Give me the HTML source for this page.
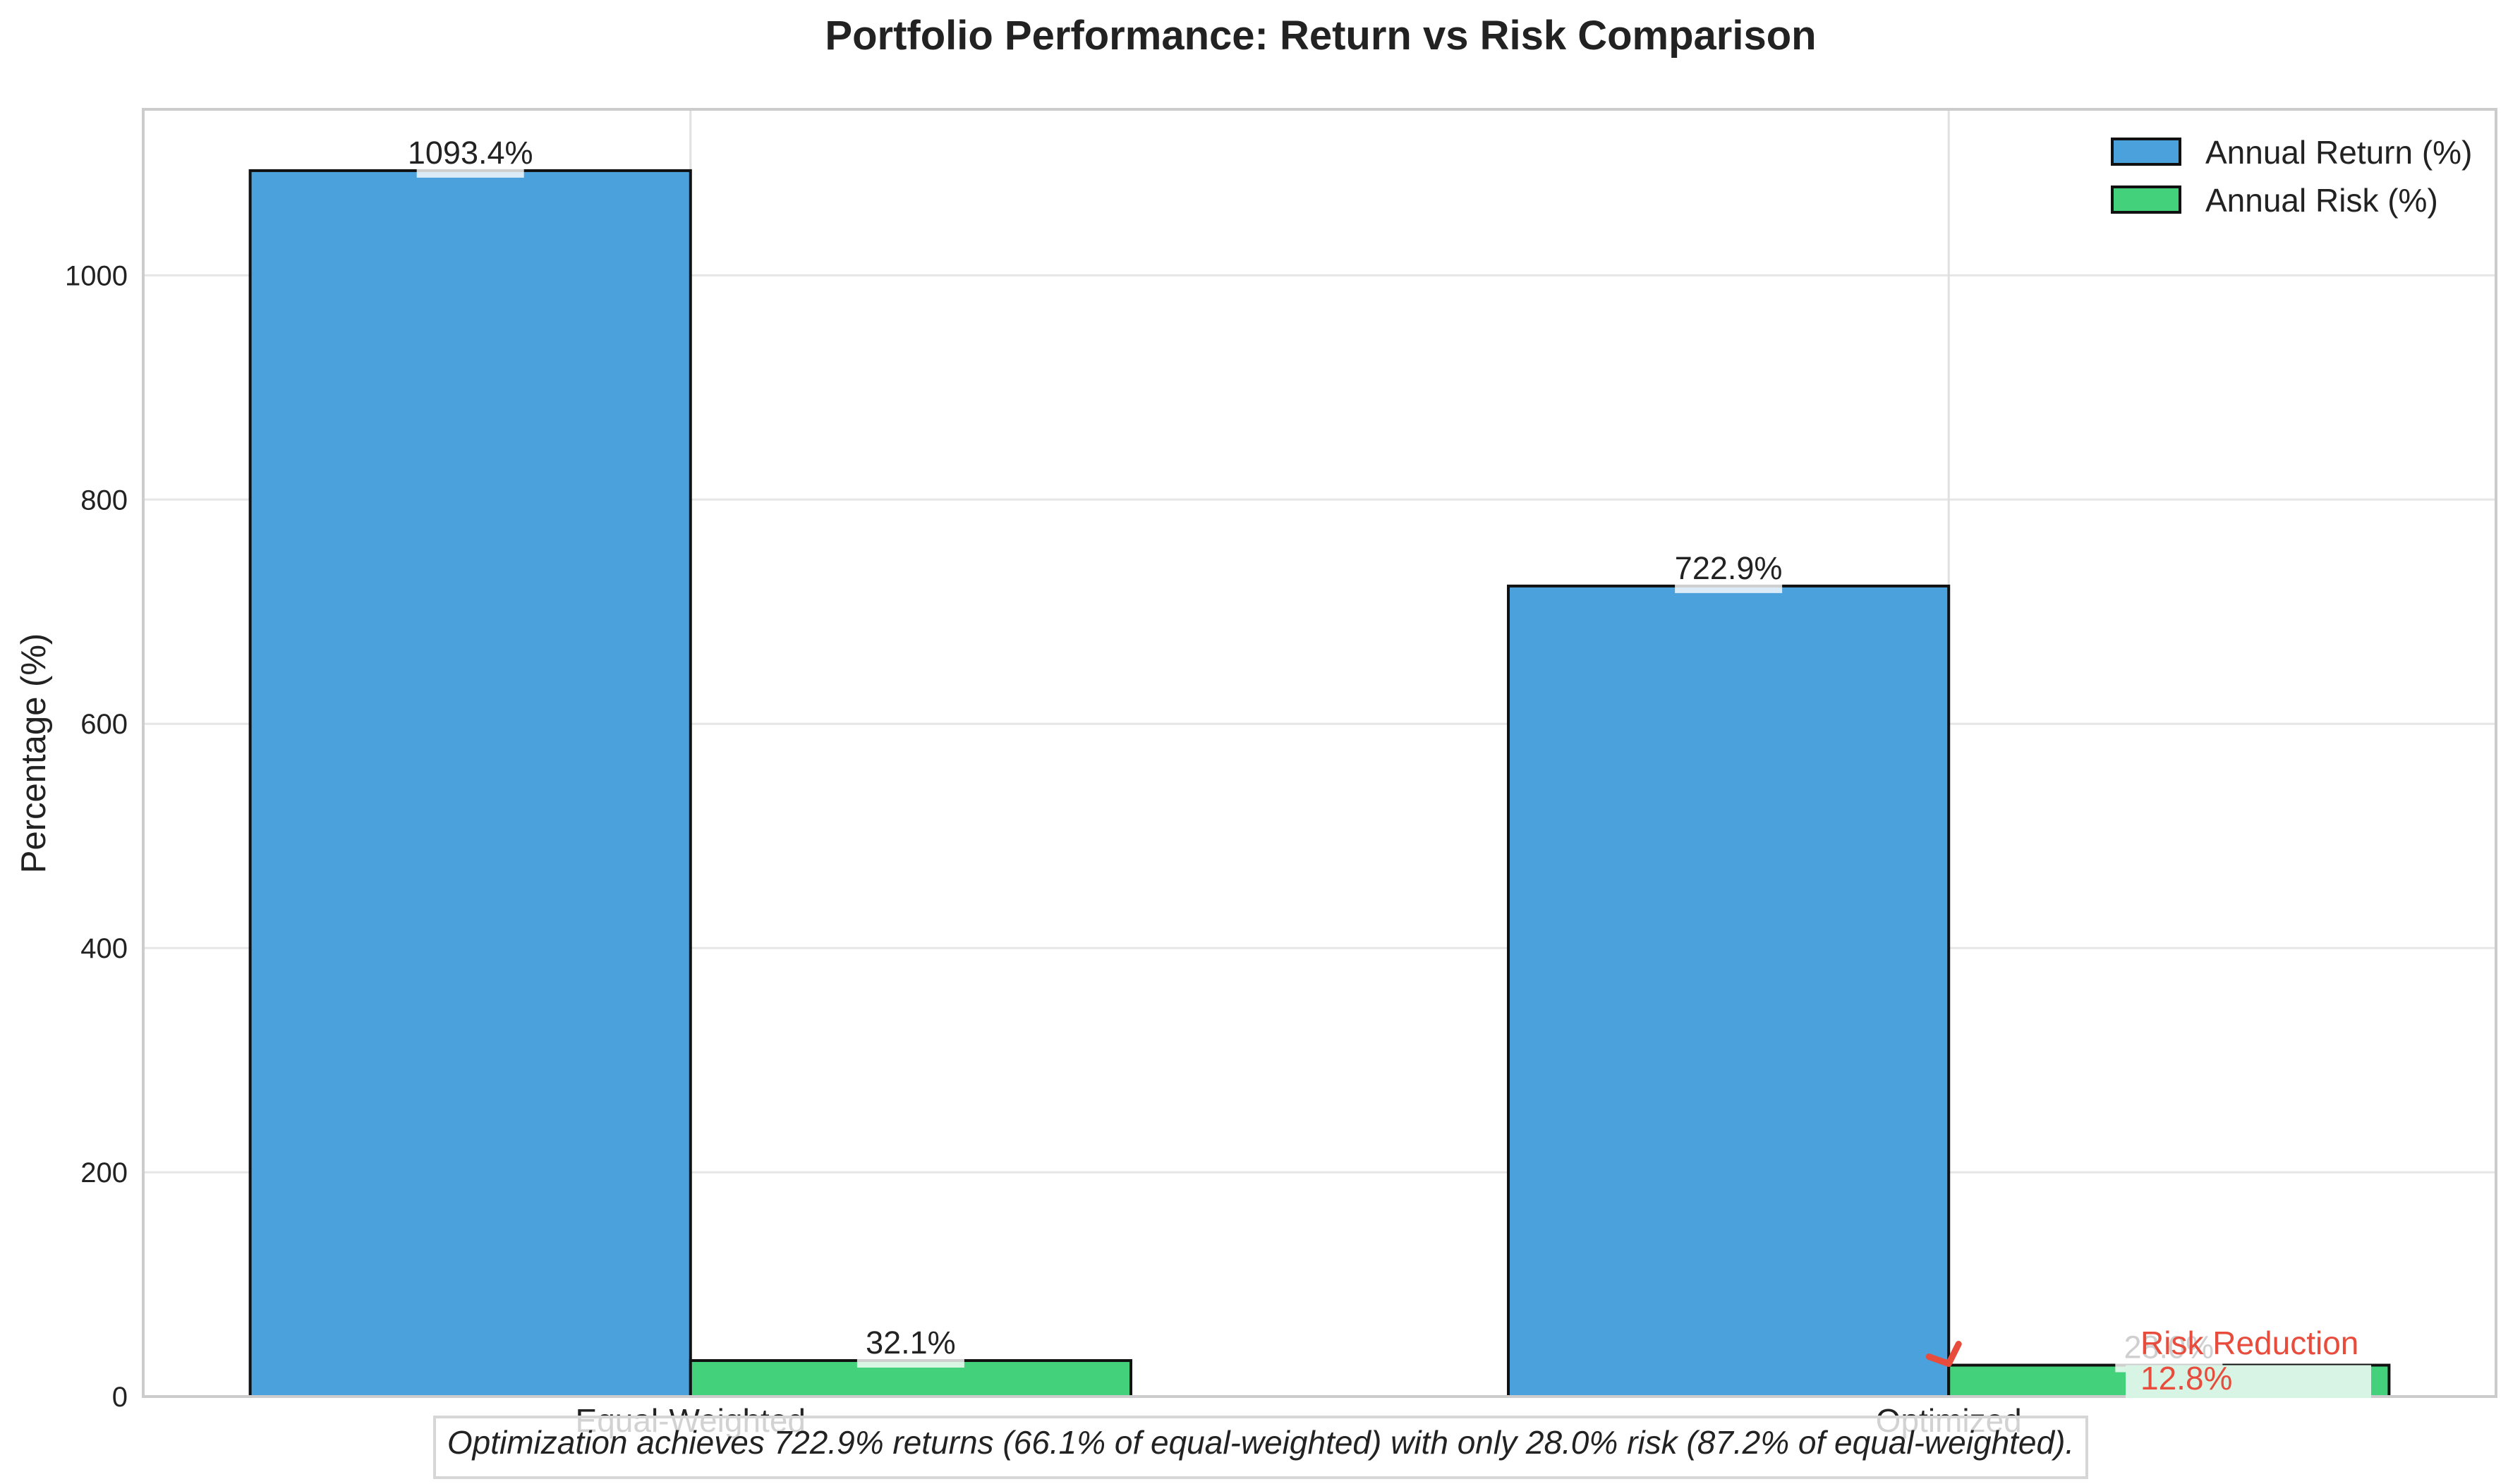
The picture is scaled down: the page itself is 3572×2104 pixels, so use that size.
<!DOCTYPE html>
<html><head><meta charset="utf-8"><style>
html,body{margin:0;padding:0;background:#fff}
svg{display:block;font-family:"Liberation Sans",Arial,sans-serif}
</style></head><body>
<svg id="chart" width="3572" height="2104" viewBox="0 0 3572 2104">
<text x="1872" y="70" text-anchor="middle" font-size="58" font-weight="bold" fill="#222">Portfolio Performance: Return vs Risk Comparison</text>
<text transform="translate(64,1068) rotate(-90)" text-anchor="middle" font-size="49" fill="#222">Percentage (%)</text>
<g id="grid"></g>
<g id="bars"></g>
<g id="labels"></g>
<rect x="203" y="155" width="3335" height="1825" fill="none" stroke="#cccccc" stroke-width="4"/>
<g id="ticks"></g>
<g id="annot"></g>
<g>
  <rect x="2994" y="197" width="96" height="36" fill="#4aa1dc" stroke="#111" stroke-width="4"/>
  <text x="3126" y="232" font-size="46" fill="#222">Annual Return (%)</text>
  <rect x="2994" y="265" width="96" height="36" fill="#43d17c" stroke="#111" stroke-width="4"/>
  <text x="3126" y="300" font-size="46" fill="#222">Annual Risk (%)</text>
</g>
<rect x="616" y="2009" width="2342" height="86" fill="#fff" fill-opacity="0.8" stroke="#d6d6d6" stroke-width="4"/>
<text x="1787" y="2061" text-anchor="middle" font-size="46" font-style="italic" fill="#222">Optimization achieves 722.9% returns (66.1% of equal-weighted) with only 28.0% risk (87.2% of equal-weighted).</text>
</svg>
<script>
const categories = ["Equal-Weighted", "Optimized"];
const returnValues = [1093.4, 722.9];
const riskValues = [32.1, 28.0];
const yTicks = [0, 200, 400, 600, 800, 1000];
const riskReductionLabel = "12.8%";

const NS = "http://www.w3.org/2000/svg";
const X0 = 203, X1 = 3538, Y0 = 1980, Y1 = 155;
const xMin = -0.435, xMax = 1.435;
const yMax = Math.max(...returnValues, ...riskValues) * 1.05;
const xs = v => X0 + (v - xMin) / (xMax - xMin) * (X1 - X0);
const ys = v => Y0 - v / yMax * (Y0 - Y1);
const W = 0.35;
function mk(tag, attrs, parent, text) {
  const e = document.createElementNS(NS, tag);
  for (const k in attrs) e.setAttribute(k, attrs[k]);
  if (text !== undefined) e.textContent = text;
  document.getElementById(parent).appendChild(e);
  return e;
}
yTicks.forEach(t => {
  const g = mk("line", {x1: X0, x2: X1, y1: ys(t), y2: ys(t), stroke: "#e6e6e6", "stroke-width": 3}, "grid");
  
  
  const l = mk("text", {x: X0 - 22, y: ys(t) + 14, "text-anchor": "end", "font-size": 40, fill: "#222"}, "ticks", String(t));
  
  
});
categories.forEach((c, i) => {
  const g = mk("line", {x1: xs(i), x2: xs(i), y1: Y1, y2: Y0, stroke: "#e0e0e0", "stroke-width": 3}, "grid");
  
  
  const l = mk("text", {x: xs(i), y: 2030, "text-anchor": "middle", "font-size": 46, fill: "#222"}, "ticks", c);
  
  
});
categories.forEach((c, i) => {
  const specs = [[returnValues[i], i - W, "#4aa1dc", "return-bar"], [riskValues[i], i, "#43d17c", "risk-bar"]];
  specs.forEach(([v, x, col, nm]) => {
    const b = mk("rect", {x: xs(x), y: ys(v), width: xs(x + W) - xs(x), height: Y0 - ys(v), fill: col, stroke: "#111", "stroke-width": 4}, "bars");
    
    
    const cx = xs(x + W / 2);
    const bg = mk("rect", {x: cx - 76, y: ys(v) - 8, width: 152, height: 18, fill: "#fff", "fill-opacity": 0.8}, "labels");
    
    
    const isHidden = (i === 1 && nm === "risk-bar");
    const t = mk("text", {x: cx, y: ys(v) - 10, "text-anchor": "middle", "font-size": 45, fill: isHidden ? "#cfcfcf" : "#222"}, "labels", v.toFixed(1) + "%");
    
    
  });
});
const ax = xs(1), ay = ys(riskValues[1]);
const box = mk("rect", {x: 3013, y: ay, width: 348, height: Y0 - ay + 2, fill: "#d8f4e4"}, "annot");


const ar = mk("path", {d: `M${ax - 28} ${ay - 12} L${ax} ${ay - 2} L${ax + 14} ${ay - 30}`, fill: "none", stroke: "#e74c3c", "stroke-width": 9, "stroke-linecap": "round", "stroke-linejoin": "round"}, "annot");


const t1 = mk("text", {x: 3034, y: 1920, "font-size": 46, fill: "#e74c3c"}, "annot", "Risk Reduction");


const t2 = mk("text", {x: 3034, y: 1970, "font-size": 46, fill: "#e74c3c"}, "annot", riskReductionLabel);


</script>
</body></html>
